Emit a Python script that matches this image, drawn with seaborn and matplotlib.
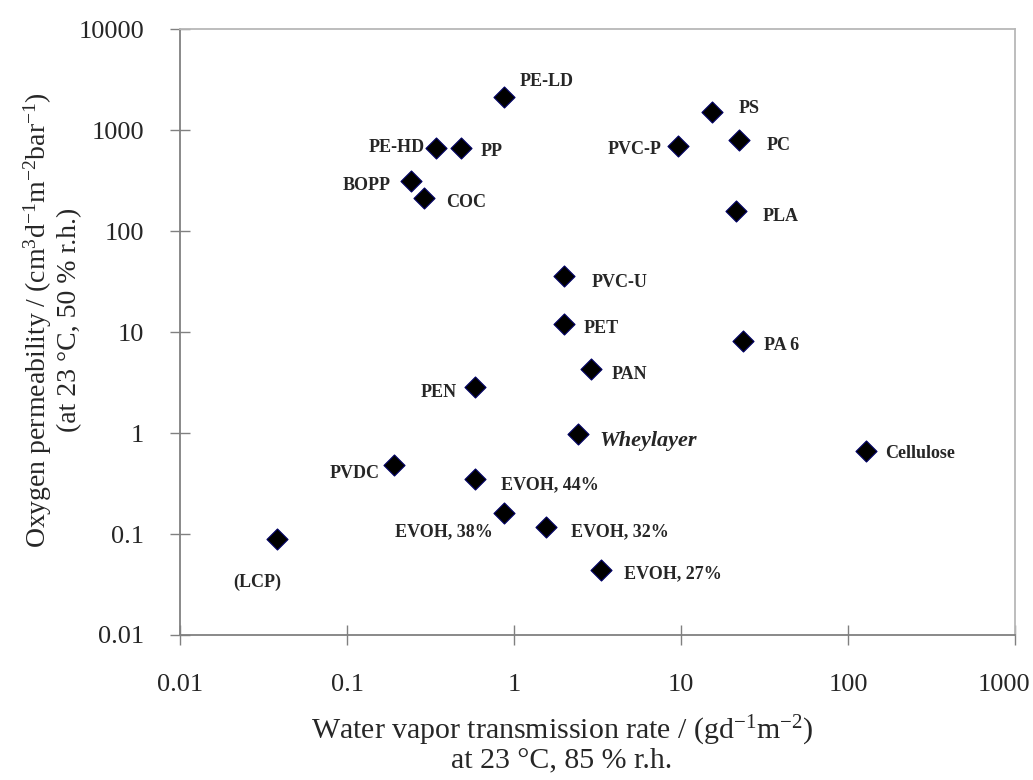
import pandas as pd
import matplotlib
matplotlib.use("Agg")
import matplotlib.pyplot as plt
import matplotlib.transforms as mtransforms
import seaborn as sns

# values
materials = ["PE-LD", "PE-HD", "PP", "BOPP", "COC", "PS", "PVC-P", "PC", "PLA",
             "PVC-U", "PET", "PAN", "PEN", "PA 6", "Wheylayer", "Cellulose", "PVDC",
             "EVOH, 44%", "EVOH, 38%", "EVOH, 32%", "EVOH, 27%", "(LCP)"]
wvtr = [0.87, 0.34, 0.48, 0.24, 0.29, 15.3, 9.6, 22.3, 21.3,
        2.0, 2.0, 2.9, 0.58, 23.5, 2.4, 128, 0.19,
        0.58, 0.87, 1.55, 3.3, 0.038]
o2_perm = [2150, 660, 660, 315, 212, 1500, 705, 800, 160,
           36, 12, 4.3, 2.85, 8.2, 0.97, 0.67, 0.485,
           0.35, 0.16, 0.117, 0.044, 0.089]
x_ticks = [0.01, 0.1, 1, 10, 100, 1000]
y_ticks = [0.01, 0.1, 1, 10, 100, 1000, 10000]

df = pd.DataFrame({"material": materials, "wvtr": wvtr, "o2": o2_perm})

# label offsets (points) and alignment
label_pos = {
    "PE-LD": (11, 11, "left"), "PE-HD": (-8, 1, "right"), "PP": (14, -2, "left"),
    "BOPP": (-14, -3, "right"), "COC": (16, -3, "left"), "PS": (19, 3, "left"),
    "PVC-P": (-12, -3, "right"), "PC": (20, -4, "left"), "PLA": (19, -4, "left"),
    "PVC-U": (20, -5, "left"), "PET": (14, -3, "left"), "PAN": (15, -3.5, "left"),
    "PEN": (-13, -4, "right"), "PA 6": (15, -3, "left"), "Wheylayer": (16, -4.5, "left"),
    "Cellulose": (14, -2, "left"), "PVDC": (-10, -6, "right"), "EVOH, 44%": (19, -4, "left"),
    "EVOH, 38%": (-8, -13, "right"), "EVOH, 32%": (18, -3, "left"),
    "EVOH, 27%": (17, -3, "left"), "(LCP)": (-14, -31, "center"),
}

sns.set_style("white")
plt.rcParams["font.family"] = ["Liberation Serif", "DejaVu Serif"]
plt.rcParams["mathtext.fontset"] = "custom"
plt.rcParams["mathtext.rm"] = "Liberation Serif"
plt.rcParams["mathtext.it"] = "Liberation Serif:italic"
plt.rcParams["mathtext.default"] = "regular"

fig = plt.figure(figsize=(10.33, 7.8), dpi=100)
ax = fig.add_axes([0.1743, 0.1859, 0.8083, 0.7765])

sns.scatterplot(data=df, x="wvtr", y="o2", marker="D", s=115, color="black",
                edgecolor="#000066", linewidth=0.8, ax=ax, zorder=3, legend=False)

ax.set_xscale("log")
ax.set_yscale("log")
ax.set_xlim(0.01, 1000)
ax.set_ylim(0.01, 10000)
ax.set_xticks(x_ticks)
ax.set_xticklabels([f"{t:g}" for t in x_ticks])
ax.set_yticks(y_ticks)
ax.set_yticklabels([f"{t:g}" for t in y_ticks])
ax.minorticks_off()
ax.tick_params(axis="both", bottom=True, left=True, direction="inout", length=14,
               width=1, color="#808080", labelsize=19)
ax.tick_params(axis="x", pad=21)
ax.tick_params(axis="y", pad=19)

# last x label sits a little left of its tick in the reference
last = ax.get_xticklabels()[-1]
last.set_transform(last.get_transform() + mtransforms.ScaledTranslation(-0.11, 0, fig.dpi_scale_trans))

for side in ["left", "bottom"]:
    ax.spines[side].set_color("#808080")
    ax.spines[side].set_linewidth(1.3)
for side in ["top", "right"]:
    ax.spines[side].set_color("#b8b8b8")
    ax.spines[side].set_linewidth(1.3)

for m, xv, yv in zip(materials, wvtr, o2_perm):
    dx, dy, ha = label_pos[m]
    if m == "Wheylayer":
        ax.annotate(m, (xv, yv), xytext=(dx, dy), textcoords="offset points",
                    ha=ha, va="center", fontsize=16, fontweight="bold", style="italic")
    else:
        ax.annotate(m, (xv, yv), xytext=(dx, dy), textcoords="offset points",
                    ha=ha, va="center", fontsize=13, fontweight="bold")

ax.set_xlabel("Water vapor transmission rate / (gd$^{-1}$m$^{-2}$)\nat 23 °C, 85 % r.h.",
              fontsize=21.5, linespacing=0.95)
ax.xaxis.set_label_coords((562 - 180) / 835, -0.13)
ax.set_ylabel("Oxygen permeability / (cm$^{3}$d$^{-1}$m$^{-2}$bar$^{-1}$)\n(at 23 °C, 50 % r.h.)",
              fontsize=20, linespacing=1.2)
ax.yaxis.set_label_coords(-0.117, 0.52)

fig.savefig("out.png", dpi=100)
plt.close(fig)
